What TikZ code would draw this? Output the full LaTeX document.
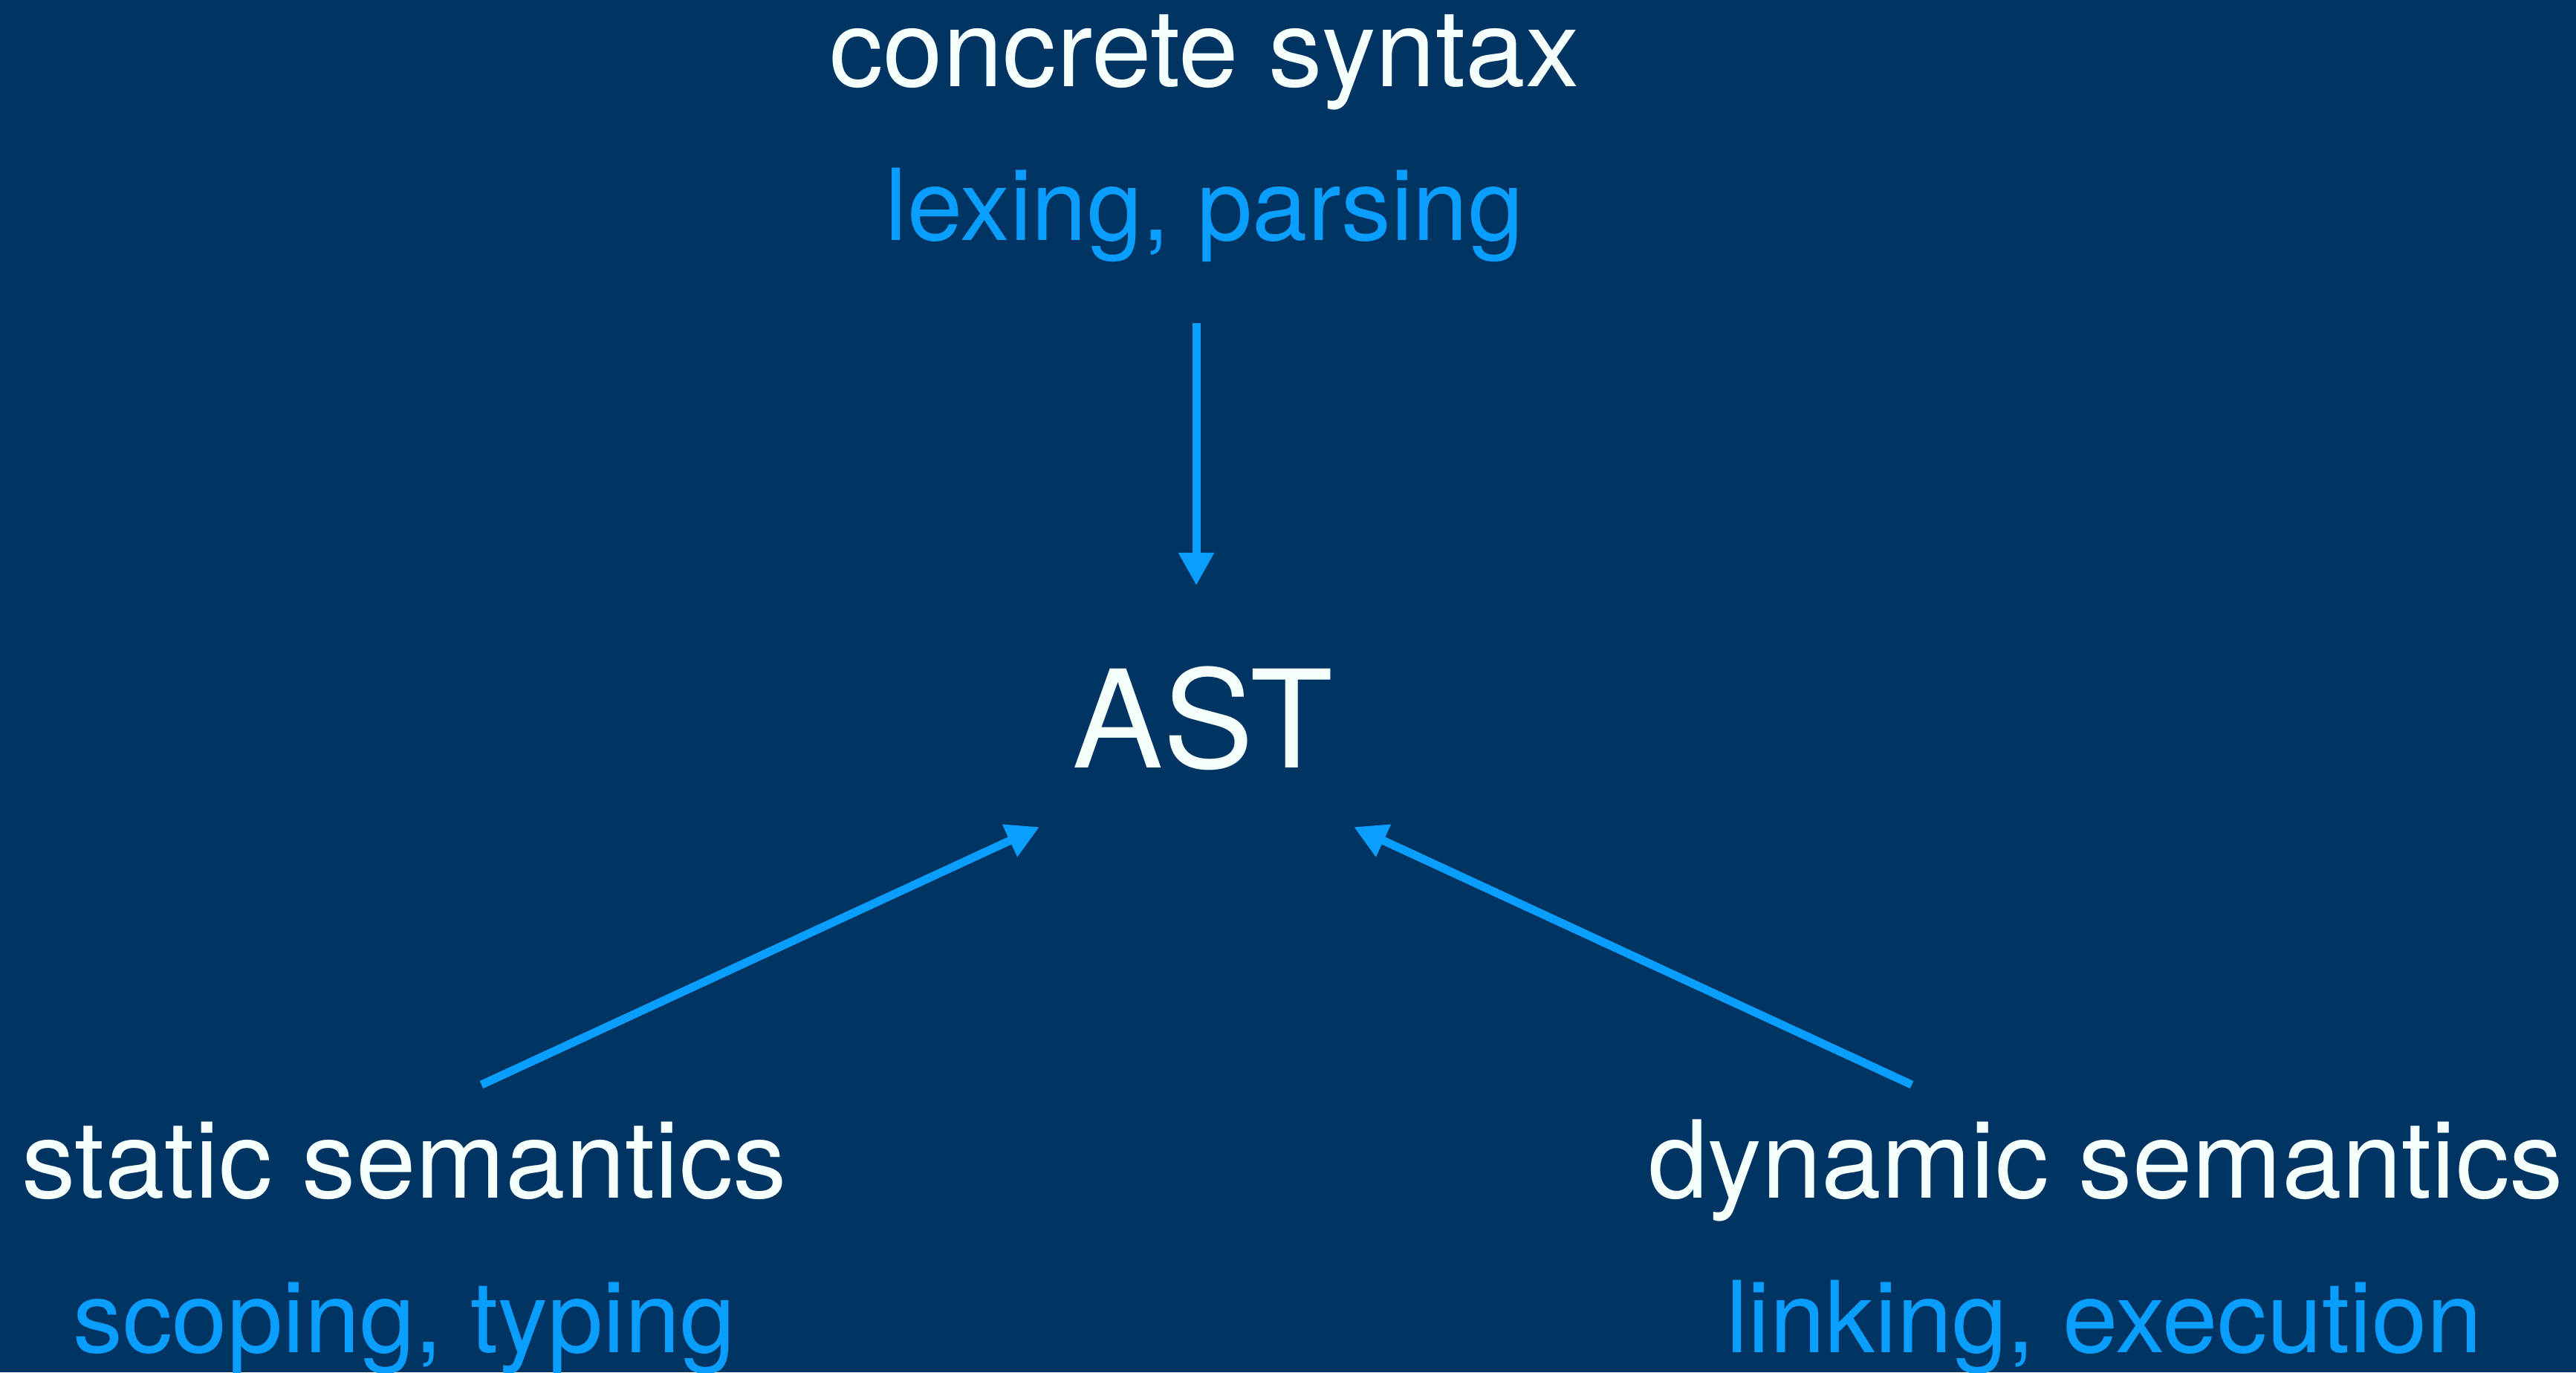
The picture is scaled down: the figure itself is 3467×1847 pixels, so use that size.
\documentclass[tikz,border=0pt]{standalone}
\usepackage{fontspec}
\setmainfont{TeX Gyre Heros}
\usetikzlibrary{arrows.meta}
\definecolor{bg}{HTML}{003462}
\definecolor{acc}{HTML}{0A9FFF}
\definecolor{wt}{HTML}{F5FFFC}
\tikzset{
  whitetext/.style={text=wt, inner sep=0pt, anchor=base, font=\fontsize{41.2pt}{48pt}\selectfont},
  bluetext/.style={text=acc, inner sep=0pt, anchor=base, font=\fontsize{38pt}{44pt}\selectfont},
  asttext/.style={text=wt, inner sep=0pt, anchor=base, font=\fontsize{52pt}{60pt}\selectfont},
  conn/.style={draw=acc, line width=3.13pt, -{Triangle[length=0.44cm,width=0.45cm]}}
}
\begin{document}
\begin{tikzpicture}[x=0.01cm,y=-0.01cm]
\fill[bg] (0,0) rectangle (3467,1847);
\useasboundingbox (0,0) rectangle (3467,1847);
\node[whitetext] (cs) at (1621,116) {concrete syntax};
\node[bluetext] (lp) at (1621,323) {lexing, parsing};
\node[asttext] (ast) at (1619,1033) {AST};
\node[whitetext] (ss) at (544,1612) {static semantics};
\node[bluetext] (st) at (544,1820) {scoping, typing};
\node[whitetext] (ds) at (2834,1612) {dynamic semantics};
\node[bluetext] (le) at (2832,1820) {linking, execution};
\coordinate (a1s) at (1610,435);
\coordinate (a1e) at (1610,788);
\coordinate (a2s) at (648,1460);
\coordinate (a2e) at (1399,1113);
\coordinate (a3s) at (2573,1460);
\coordinate (a3e) at (1822,1113);
\draw[conn] (a1s) -- (a1e);
\draw[conn] (a2s) -- (a2e);
\draw[conn] (a3s) -- (a3e);
\end{tikzpicture}
\end{document}
